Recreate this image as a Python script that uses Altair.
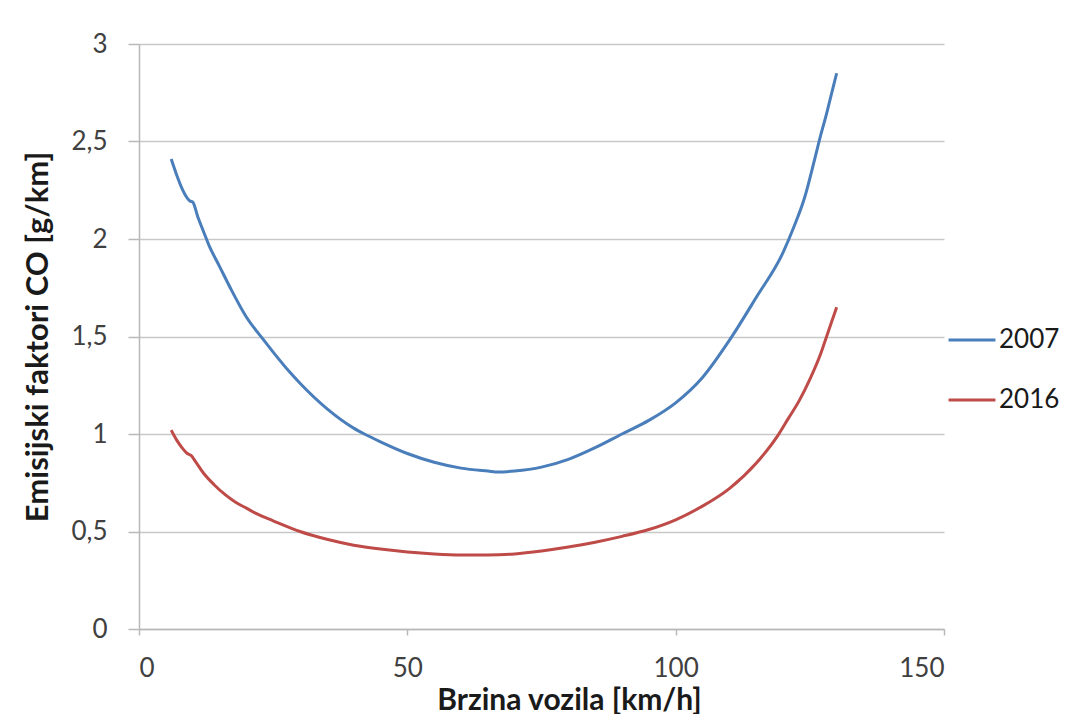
import altair as alt
import pandas as pd

speed_2007 = [6, 7, 8, 9, 9.5, 10, 11, 12, 13, 15, 17, 20, 23, 25, 28, 30, 35, 40, 42, 45, 50, 55, 60, 65, 67, 70, 75, 80, 85, 90, 95, 100, 105, 110, 115, 120, 122, 124, 126, 127, 128, 129, 130]
co_2007 = [2.41, 2.33, 2.26, 2.21, 2.195, 2.19, 2.11, 2.04, 1.97, 1.86, 1.75, 1.60, 1.49, 1.42, 1.32, 1.26, 1.13, 1.03, 1.0, 0.96, 0.90, 0.855, 0.825, 0.81, 0.805, 0.81, 0.83, 0.87, 0.93, 1.0, 1.07, 1.16, 1.29, 1.48, 1.70, 1.93, 2.06, 2.21, 2.42, 2.53, 2.63, 2.74, 2.85]

speed_2016 = [6, 7, 8, 9, 9.7, 10.5, 12, 14, 16, 18, 20, 22, 25, 30, 35, 40, 45, 50, 55, 60, 65, 70, 75, 80, 85, 90, 95, 100, 105, 110, 115, 119, 121, 123, 125, 127, 128, 129, 130]
co_2016 = [1.02, 0.97, 0.93, 0.90, 0.89, 0.86, 0.80, 0.74, 0.69, 0.65, 0.62, 0.59, 0.555, 0.50, 0.46, 0.43, 0.41, 0.395, 0.385, 0.38, 0.38, 0.385, 0.40, 0.42, 0.445, 0.475, 0.51, 0.56, 0.63, 0.72, 0.85, 0.99, 1.08, 1.17, 1.28, 1.41, 1.49, 1.57, 1.65]

series = ["2007", "2016"]
colors = ["#4a7ebb", "#be4b48"]
x_ticks = [0, 50, 100, 150]
y_ticks = [0, 0.5, 1, 1.5, 2, 2.5, 3]

df = pd.concat([
    pd.DataFrame({"speed": speed_2007, "co": co_2007, "year": "2007"}),
    pd.DataFrame({"speed": speed_2016, "co": co_2016, "year": "2016"}),
])

font = "Lato"

chart = alt.Chart(df).mark_line(strokeWidth=3, interpolate="monotone").encode(
    x=alt.X("speed:Q",
            scale=alt.Scale(domain=[0, 150], nice=False),
            axis=alt.Axis(values=x_ticks, title="Brzina vozila [km/h]", grid=False,
                          domainColor="#b8b8b8", domainWidth=1.5,
                          tickColor="#b8b8b8", tickWidth=1.5, tickSize=6,
                          labelPadding=20, labelFontSize=26, labelColor="#404040",
                          labelFont=font, titleFont=font, titleFontSize=30,
                          titleFontWeight="bold", titleColor="#1a1a1a", titlePadding=4,
                          titleX=430, titleAlign="center")),
    y=alt.Y("co:Q",
            scale=alt.Scale(domain=[0, 3], nice=False),
            axis=alt.Axis(values=y_ticks, title="Emisijski faktori CO [g/km]",
                          labelExpr="replace(toString(datum.value), '.', ',')",
                          grid=True, gridColor="#c8c8c8", gridWidth=1.5,
                          domainColor="#b8b8b8", domainWidth=1.5,
                          tickColor="#b8b8b8", tickWidth=1.5, tickSize=11,
                          labelPadding=21, labelFontSize=26, labelColor="#404040",
                          labelFont=font, titleFont=font, titleFontSize=31,
                          titleFontWeight="bold", titleColor="#1a1a1a", titlePadding=16)),
    color=alt.Color("year:N",
                    scale=alt.Scale(domain=series, range=colors),
                    legend=alt.Legend(title=None, orient="none", legendX=808, legendY=271,
                                      symbolType="stroke", symbolSize=2200,
                                      symbolStrokeWidth=3, labelFontSize=26,
                                      labelFont=font, labelColor="#1a1a1a",
                                      labelOffset=2, rowPadding=22, padding=0)),
).properties(
    width=805, height=585,
    autosize=alt.AutoSizeParams(type="none"),
    padding={"left": 131, "top": 36, "right": 134, "bottom": 85},
).configure_view(stroke=None)

chart.save("out.html", embed_options={"renderer": "svg", "actions": False})
